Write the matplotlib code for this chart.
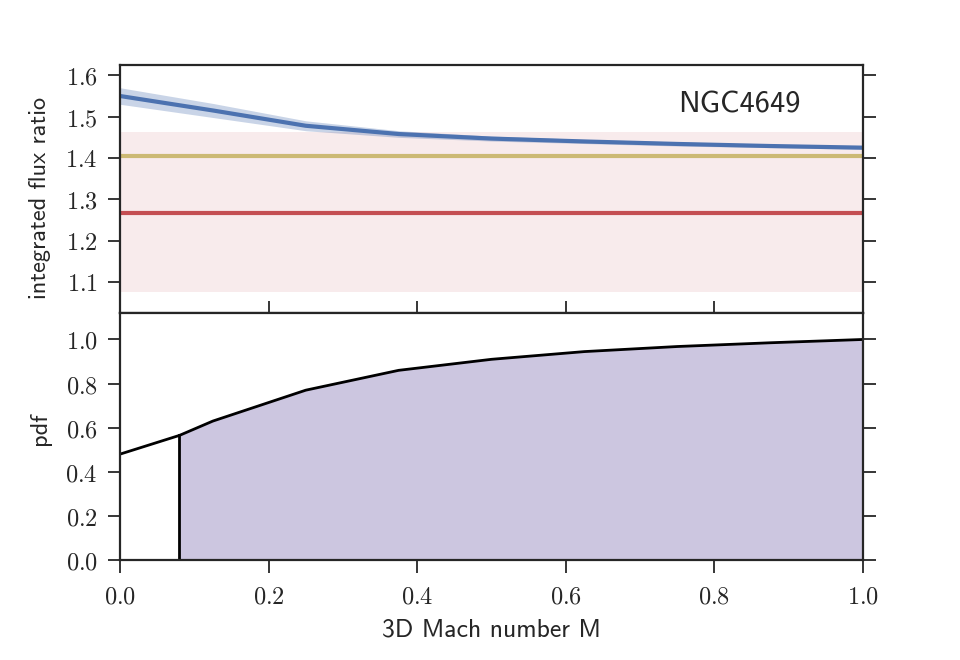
import numpy as np
import matplotlib
matplotlib.use("Agg")
import matplotlib.pyplot as plt

plt.rcParams['mathtext.fontset'] = 'cm'
plt.rcParams['font.family'] = ['DejaVu Sans']

# ---- data ----
mach = [0.0, 0.125, 0.25, 0.375, 0.5, 0.625, 0.75, 0.875, 1.0]
ratio = [1.550, 1.515, 1.478, 1.458, 1.447, 1.440, 1.434, 1.429, 1.425]
ratio_err = [0.020, 0.017, 0.012, 0.008, 0.006, 0.005, 0.005, 0.004, 0.004]
obs_value = 1.267
obs_low, obs_high = 1.076, 1.462
model_value = 1.405

pdf_x = [0.0, 0.08, 0.125, 0.25, 0.375, 0.5, 0.625, 0.75, 0.875, 1.0]
pdf_y = [0.48, 0.565, 0.63, 0.77, 0.86, 0.91, 0.945, 0.968, 0.985, 1.0]
cut = 0.08

xticks = [0.0, 0.2, 0.4, 0.6, 0.8, 1.0]
yticks_top = [1.1, 1.2, 1.3, 1.4, 1.5, 1.6]
yticks_bot = [0.0, 0.2, 0.4, 0.6, 0.8, 1.0]

SANS = ['cmss10', 'DejaVu Sans']
spine_c = '#262626'
txt_c = '#262626'
fig = plt.figure(figsize=(9.6, 6.6), dpi=100)
ax1 = fig.add_axes([120/960, 1-313/660, 743/960, 248/660])
ax2 = fig.add_axes([120/960, 1-560/660, 743/960, 247/660], sharex=ax1)

# top panel
ax1.axhspan(obs_low, obs_high, color='#C44E52', alpha=0.11, lw=0)
ax1.axhline(obs_value, color='#C44E52', lw=3)
ax1.axhline(model_value, color='#CCB974', lw=3)
r = np.array(ratio); e = np.array(ratio_err)
ax1.fill_between(mach, r - e, r + e, color='#4C72B0', alpha=0.3, lw=0)
ax1.plot(mach, ratio, color='#4C72B0', lw=3)
ax1.text(0.834, 1.528, 'NGC4649', ha='center', va='center',
         fontsize=22, color=txt_c, family=SANS)
ax1.set_ylim(1.025, 1.625)
ax1.set_yticks(yticks_top)
ax1.set_yticklabels([r'$%.1f$' % v for v in yticks_top])
ax1.set_ylabel('integrated flux ratio', fontsize=17.5, family=SANS,
               color=txt_c, labelpad=10)
ax1.yaxis.label.set_y(0.465)
ax1.tick_params(axis='x', bottom=False, labelbottom=False)
ax1.tick_params(axis='y', left=True, right=True, direction='out', length=9,
                width=1.3, pad=7, labelsize=17.5, color=spine_c,
                labelcolor=txt_c)

# bottom panel
ax2.plot(pdf_x, pdf_y, color='black', lw=2)
px = np.array(pdf_x); py = np.array(pdf_y)
ax2.fill_between(px, 0, py, where=px >= cut - 1e-9, color='#8172B2',
                 alpha=0.4, lw=0)
ax2.plot([cut, cut], [0, pdf_y[1]], color='black', lw=2)
ax2.set_xlim(0, 1)
ax2.set_ylim(0, 1.12)
ax2.set_xticks(xticks)
ax2.set_xticklabels([r'$%.1f$' % v for v in xticks])
ax2.set_yticks(yticks_bot)
ax2.set_yticklabels([r'$%.1f$' % v for v in yticks_bot])
ax2.set_ylabel('pdf', fontsize=17.5, family=SANS, color=txt_c, labelpad=10)
ax2.yaxis.label.set_y(0.53)
ax2.set_xlabel('3D Mach number M', fontsize=18.5, family=SANS,
               color=txt_c, labelpad=7)
ax2.tick_params(axis='both', left=True, right=True, bottom=True, top=True,
                direction='out', length=9, width=1.3, labelsize=17.5,
                color=spine_c, labelcolor=txt_c)
ax2.tick_params(axis='y', pad=7)
ax2.tick_params(axis='x', pad=9)

for ax in (ax1, ax2):
    for s in ax.spines.values():
        s.set_color(spine_c)
        s.set_linewidth(1.6)

fig.savefig('out.png', dpi=100)
